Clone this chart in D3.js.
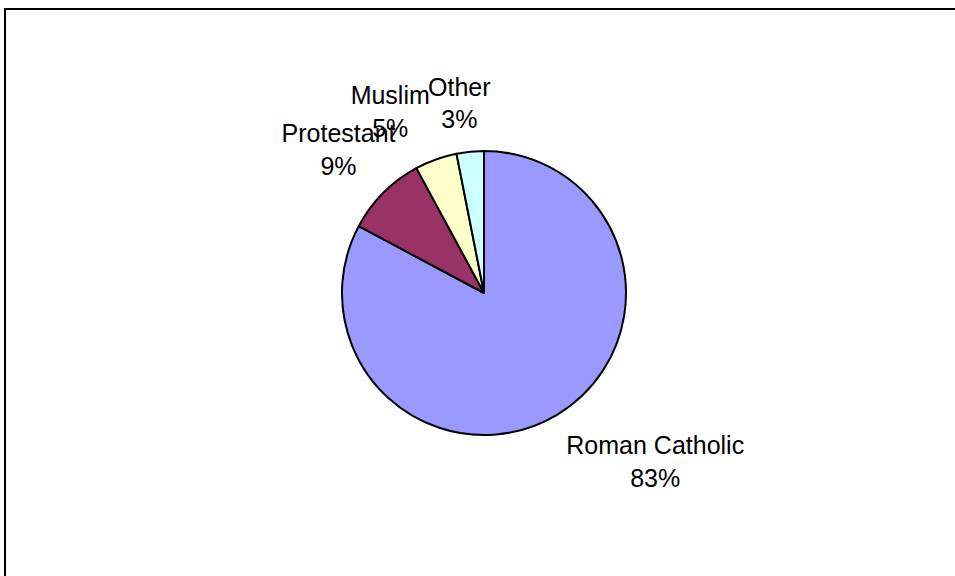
<!DOCTYPE html>
<html>
<head>
<meta charset="utf-8">
<script src="https://cdn.jsdelivr.net/npm/d3@7"></script>
<style>
  body { margin: 0; background: #fff; }
  svg { display: block; }
  text { font-family: "Liberation Sans", Arial, sans-serif; font-size: 25px; fill: #000; }
</style>
</head>
<body>
<script>
const categories = ["Roman Catholic", "Protestant", "Muslim", "Other"];
const shares = [82.8, 9.3, 4.8, 3.1];
const colors = ["#9999FF", "#993366", "#FFFFCC", "#CCFFFF"];

const w = 955;
const h = 576;
const cx = 484, cy = 293, radius = 142;
const labelGap = 18;
// small horizontal nudges, the way the original label layout shifted them
const labelNudge = { "Protestant": 25 };

const svg = d3.select("body")
  .append("svg")
    .attr("width", w)
    .attr("height", h);

// outer chart frame (runs off the right and bottom edges)
svg.append("rect")
  .attr("x", 5)
  .attr("y", 9)
  .attr("width", 980)
  .attr("height", 600)
  .attr("fill", "#fff")
  .attr("stroke", "#000")
  .attr("stroke-width", 2);

const data = categories.map((c, i) => ({ name: c, value: shares[i], color: colors[i] }));

const pie = d3.pie()
  .sort(null)
  .value(d => d.value);

const arc = d3.arc()
  .innerRadius(0)
  .outerRadius(radius);

const chart = svg.append("g")
  .attr("transform", "translate(" + cx + "," + cy + ")");

const arcs = pie(data);

chart.selectAll(".slice")
  .data(arcs)
  .enter()
    .append("path")
    .classed("slice", true)
    .attr("d", arc)
    .style("fill", d => d.data.color)
    .style("stroke", "#000")
    .style("stroke-width", 2)
    .style("stroke-linejoin", "round");

// labels: box placed just outside the pie along each slice's mid angle
const total = d3.sum(shares);
const labels = chart.selectAll(".label")
  .data(arcs)
  .enter()
    .append("text")
    .classed("label", true)
    .attr("text-anchor", "middle");

labels.append("tspan").attr("class", "l1").text(d => d.data.name);
labels.append("tspan").attr("class", "l2").text(d => Math.round(d.data.value / total * 100) + "%");

labels.each(function(d){
  const t = d3.select(this);
  const bw = Math.max(t.select(".l1").node().getComputedTextLength(),
                      t.select(".l2").node().getComputedTextLength());
  const bh = 62;
  const a = (d.startAngle + d.endAngle) / 2;
  const sx = Math.sin(a), sy = -Math.cos(a);
  const px = sx * (radius + labelGap);
  const py = sy * (radius + labelGap);
  const fx = Math.max(-1, Math.min(1, sx * 3));
  const fy = Math.max(-1, Math.min(1, sy * 3));
  const mx = px + fx * bw / 2 + (labelNudge[d.data.name] || 0);
  const top = py + fy * bh / 2 - bh / 2;
  t.select(".l1").attr("x", mx).attr("y", top + 24);
  t.select(".l2").attr("x", mx).attr("y", top + 56.5);
});
</script>
</body>
</html>
